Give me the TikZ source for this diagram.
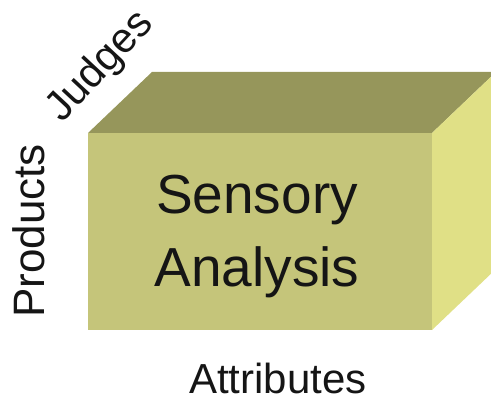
\documentclass[tikz,border=0pt]{standalone}
\usepackage{fontspec}
\setmainfont{Liberation Sans}
\definecolor{frontc}{HTML}{C5C57A}
\definecolor{topc}{HTML}{96965B}
\definecolor{rightc}{HTML}{E0E086}
\definecolor{txt}{HTML}{151515}
\begin{document}
\begin{tikzpicture}[x=1pt,y=-1pt,
  face/.style={draw=none},
  lbl/.style={inner sep=0pt,text=txt}]
\useasboundingbox (0,0) rectangle (491,404);
\coordinate (fl) at (88,133);
\coordinate (fr) at (432,133);
\coordinate (br) at (432,330);
\coordinate (bl) at (88,330);
\coordinate (tl) at (152,72);
\coordinate (tr) at (496,72);
\coordinate (rb) at (496,269);
\begin{scope}
\clip (0,0) rectangle (491,404);
\fill[topc] (fl) -- (tl) -- (tr) -- (fr) -- cycle;
\fill[rightc] (fr) -- (tr) -- (rb) -- (br) -- cycle;
\fill[frontc] (fl) -- (fr) -- (br) -- (bl) -- cycle;
\end{scope}
\node[lbl,align=center,font=\fontsize{55}{73}\selectfont] (sa) at (257,237) {Sensory\\Analysis};
\node[lbl,anchor=base,font=\fontsize{42}{50}\selectfont] (attr) at (278,393) {Attributes};
\node[lbl,rotate=90,font=\fontsize{44}{52}\selectfont] (prod) at (29,231) {Products};
\node[lbl,rotate=47,anchor=base west,font=\fontsize{42}{50}\selectfont] (judg) at (62,124) {Judges};
\end{tikzpicture}
\end{document}
